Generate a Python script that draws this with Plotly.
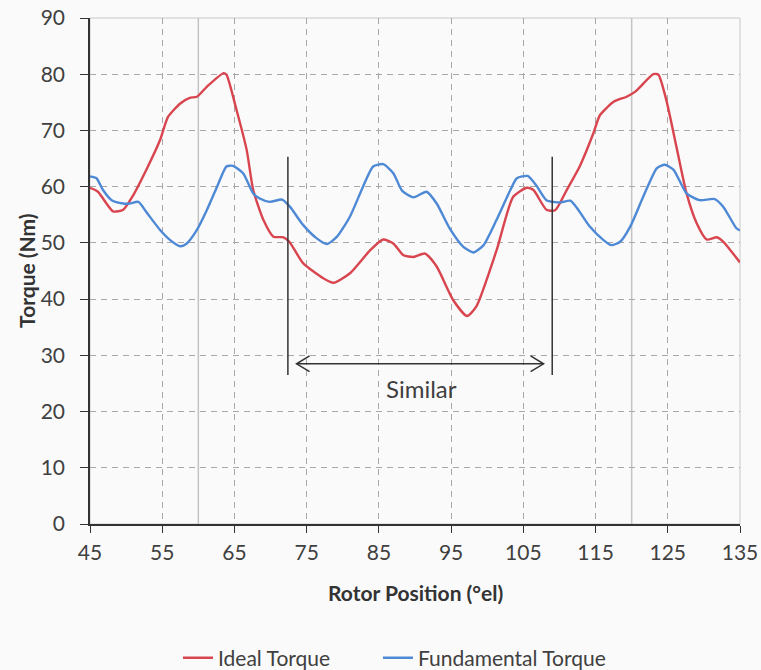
import plotly.graph_objects as go

# Rotor position (electrical degrees) and torque readings for each waveform
ideal_pos = [45, 46.1, 48.2, 49.6, 51.0, 52.8, 54.7, 55.8, 57.5, 58.8, 59.8, 61.2, 63.5, 63.9,
             65.3, 66.7, 67.6, 69.0, 70.4, 71.8, 72.6, 74.5, 77.3, 78.7, 81.0, 83.8, 85.6, 87.0,
             88.4, 89.8, 91.4, 93.0, 95.3, 97.2, 98.5, 101.3, 103.6, 105.5, 106.4, 108.2, 109.4,
             111.0, 112.8, 114.7, 115.6, 117.5, 119.3, 120.5, 123.0, 123.7, 124.8, 126.2, 127.6,
             129.0, 130.4, 131.8, 132.7, 135]
ideal_torque = [59.8, 59.1, 55.6, 55.9, 58.5, 63.0, 68.3, 72.4, 74.8, 75.8, 76.0, 77.8, 80.2, 79.9,
                73.6, 66.5, 59.4, 54.1, 51.1, 51.0, 50.2, 46.4, 43.7, 42.9, 44.6, 48.7, 50.6, 49.9,
                47.8, 47.5, 48.1, 45.8, 39.8, 37.0, 38.7, 48.7, 58.2, 59.8, 59.4, 55.9, 55.8,
                59.4, 63.6, 69.5, 72.7, 75.1, 76.0, 76.9, 80.0, 79.9, 75.4, 67.1, 58.8,
                53.5, 50.6, 51.0, 50.2, 46.5]

fund_pos = [45, 45.9, 46.8, 48.0, 49.6, 50.5, 51.7, 52.9, 54.7, 56.1, 57.5, 58.4, 59.8, 61.2,
            62.5, 63.9, 64.8, 66.2, 67.6, 68.5, 69.9, 71.6, 72.7, 74.5, 76.4, 77.8, 79.2, 81.0,
            82.8, 84.2, 85.6, 87.0, 88.2, 89.8, 91.6, 93.0, 94.8, 96.7, 98.1, 99.5, 101.3, 103.2,
            104.1, 105.6, 106.8, 108.2, 110.1, 111.5, 112.6, 114.2, 116.1, 117.2, 118.4, 119.8,
            121.6, 123.5, 124.6, 125.8, 127.6, 129.4, 131.5, 132.7, 134.5, 135]
fund_torque = [61.8, 61.5, 59.4, 57.6, 57.0, 57.0, 57.3, 55.3, 52.3, 50.5, 49.4, 49.9, 52.3, 55.9,
               59.7, 63.6, 63.7, 62.4, 58.8, 57.9, 57.3, 57.7, 56.4, 53.2, 50.8, 49.8, 51.1, 54.7,
               60.0, 63.6, 64.0, 62.4, 59.3, 58.1, 59.1, 57.0, 52.6, 49.3, 48.3, 49.6, 54.1, 59.4,
               61.5, 61.9, 60.2, 57.6, 57.2, 57.5, 55.9, 52.9, 50.5, 49.6, 50.2, 52.9,
               58.2, 63.3, 63.9, 63.0, 58.8, 57.6, 57.8, 56.4, 52.6, 52.2]

x_ticks = [45, 55, 65, 75, 85, 95, 105, 115, 125, 135]
y_ticks = [0, 10, 20, 30, 40, 50, 60, 70, 80, 90]

# Period boundaries (light solid lines) and the "Similar" bracket
period_marks = [60, 120]
bracket_marks = [72.4, 109.0]
bracket_span = [26.5, 65.3]
arrow_ends = [73.6, 107.8]
arrow_level = 28.5
label_pos = (90.9, 24.1)

RED = "#d8454f"
BLUE = "#4e89d5"
TEXT = "#404040"
DARK = "#333333"
FONT = "Lato"

fig = go.Figure()
fig.add_trace(go.Scatter(x=ideal_pos, y=ideal_torque, mode="lines", name="Ideal Torque",
                         legend="legend",
                         line=dict(color=RED, width=2.4, shape="spline", smoothing=0.6)))
fig.add_trace(go.Scatter(x=fund_pos, y=fund_torque, mode="lines", name="Fundamental Torque",
                         legend="legend2",
                         line=dict(color=BLUE, width=2.4, shape="spline", smoothing=0.6)))

shapes = []
# light frame around the plot area
shapes.append(dict(type="rect", xref="paper", yref="paper", x0=0, x1=1, y0=0, y1=1,
                   line=dict(color="#c8c8c8", width=1), layer="below"))
for p in period_marks:
    shapes.append(dict(type="line", xref="x", yref="y", x0=p, x1=p, y0=y_ticks[0], y1=y_ticks[-1],
                       line=dict(color="#c4c4c4", width=1.5), layer="below"))
for b in bracket_marks:
    shapes.append(dict(type="line", xref="x", yref="y", x0=b, x1=b, y0=bracket_span[0], y1=bracket_span[1],
                       line=dict(color=DARK, width=1.5)))
# double-headed arrow shaft and open chevron heads
shapes.append(dict(type="line", xref="x", yref="y", x0=arrow_ends[0], x1=arrow_ends[1],
                   y0=arrow_level, y1=arrow_level, line=dict(color=DARK, width=1.5)))
hx, hy = 1.8, 1.4
a0, a1 = arrow_ends
shapes.append(dict(type="path", xref="x", yref="y",
                   path=f"M {a0+hx},{arrow_level+hy} L {a0},{arrow_level} L {a0+hx},{arrow_level-hy}",
                   line=dict(color=DARK, width=1.5)))
shapes.append(dict(type="path", xref="x", yref="y",
                   path=f"M {a1-hx},{arrow_level+hy} L {a1},{arrow_level} L {a1-hx},{arrow_level-hy}",
                   line=dict(color=DARK, width=1.5)))

annotations = [
    dict(x=label_pos[0], y=label_pos[1], xref="x", yref="y", text="Similar",
         showarrow=False, font=dict(size=24, color=TEXT)),
    dict(x=0.5, y=-0.136, xref="paper", yref="paper", text="<b>Rotor Position (°el)</b>",
         showarrow=False, yanchor="middle", font=dict(size=21, color=DARK)),
    dict(x=-0.097, y=0.502, xref="paper", yref="paper", text="<b>Torque (Nm)</b>",
         showarrow=False, textangle=-90, xanchor="center", yanchor="middle",
         font=dict(size=21, color=DARK)),
]

legend_style = dict(orientation="h", xanchor="left", y=-0.265, yanchor="middle",
                    font=dict(size=21, color=TEXT), bgcolor="rgba(0,0,0,0)")

fig.update_layout(
    width=761, height=670,
    margin=dict(l=90, r=21, t=18, b=146, autoexpand=False),
    paper_bgcolor="#fafafa", plot_bgcolor="#fafafa",
    font=dict(family=FONT, color=TEXT, size=21),
    shapes=shapes,
    annotations=annotations,
    showlegend=True,
    legend=dict(x=0.1354, **legend_style),
    legend2=dict(x=0.443, **legend_style),
)
fig.update_xaxes(range=[x_ticks[0], x_ticks[-1]], tickvals=x_ticks, ticks="outside", ticklen=7,
                 tickcolor=DARK, showline=True, linecolor=DARK, linewidth=1.5,
                 showgrid=True, gridcolor="#a8a8a8", griddash="6px,5px", gridwidth=1,
                 zeroline=False, automargin=False, ticklabelstandoff=2,
                 tickfont=dict(size=21, color=TEXT))
fig.update_yaxes(range=[y_ticks[0], y_ticks[-1]], tickvals=y_ticks, ticks="outside", ticklen=8,
                 tickcolor=DARK, showline=True, linecolor=DARK, linewidth=1.5,
                 showgrid=True, gridcolor="#a8a8a8", griddash="6px,5px", gridwidth=1,
                 zeroline=False, automargin=False, ticklabelstandoff=11,
                 tickfont=dict(size=21, color=TEXT))

fig.write_html("out.html")
